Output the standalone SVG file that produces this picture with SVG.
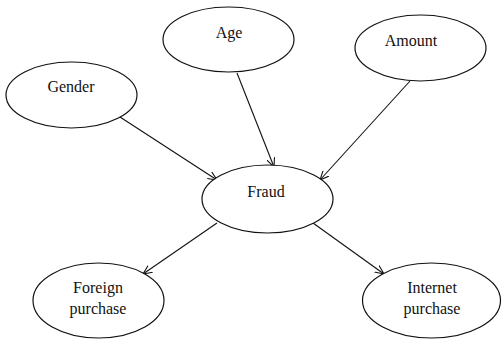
<svg xmlns="http://www.w3.org/2000/svg" width="502" height="341" viewBox="0 0 502 341">
<style>
.n{fill:#fff;stroke:#111;stroke-width:1.2}
.t{font-family:'Liberation Serif','Times New Roman',serif;font-size:16px;fill:#111;text-anchor:middle}
.c{stroke:#111;stroke-width:1.1;fill:none;marker-end:url(#a)}
</style>
<defs>
<marker id="a" viewBox="0 0 10 10" refX="10" refY="5" markerWidth="9" markerHeight="9" markerUnits="userSpaceOnUse" orient="auto">
<path d="M0,0.5 L10,5 L0,9.5" fill="none" stroke="#111" stroke-width="1.2"/>
</marker>
</defs>
<rect width="502" height="341" fill="#fff"/>
<g id="connectors">
<line class="c" x1="120" y1="117" x2="217" y2="180"/>
<line class="c" x1="237" y1="73" x2="274" y2="167"/>
<line class="c" x1="410" y1="81" x2="320" y2="180"/>
<line class="c" x1="217" y1="223" x2="143" y2="274"/>
<line class="c" x1="313" y1="223" x2="384" y2="274"/>
</g>
<g id="gender"><ellipse class="n" cx="71.5" cy="95" rx="65.5" ry="33"/><text class="t" x="71" y="92">Gender</text></g>
<g id="age"><ellipse class="n" cx="228.5" cy="39.5" rx="65.5" ry="32.5"/><text class="t" x="229" y="38">Age</text></g>
<g id="amount"><ellipse class="n" cx="420.5" cy="48" rx="65.5" ry="33"/><text class="t" x="411" y="46">Amount</text></g>
<g id="fraud"><ellipse class="n" cx="267.5" cy="199" rx="65.5" ry="34"/><text class="t" x="266" y="197">Fraud</text></g>
<g id="foreign"><ellipse class="n" cx="98.5" cy="300.5" rx="65.5" ry="37.5"/><text class="t" x="98" y="293">Foreign</text><text class="t" x="98" y="314">purchase</text></g>
<g id="internet"><ellipse class="n" cx="431.5" cy="300.5" rx="69" ry="37.5"/><text class="t" x="432" y="293">Internet</text><text class="t" x="432" y="314">purchase</text></g>
</svg>
